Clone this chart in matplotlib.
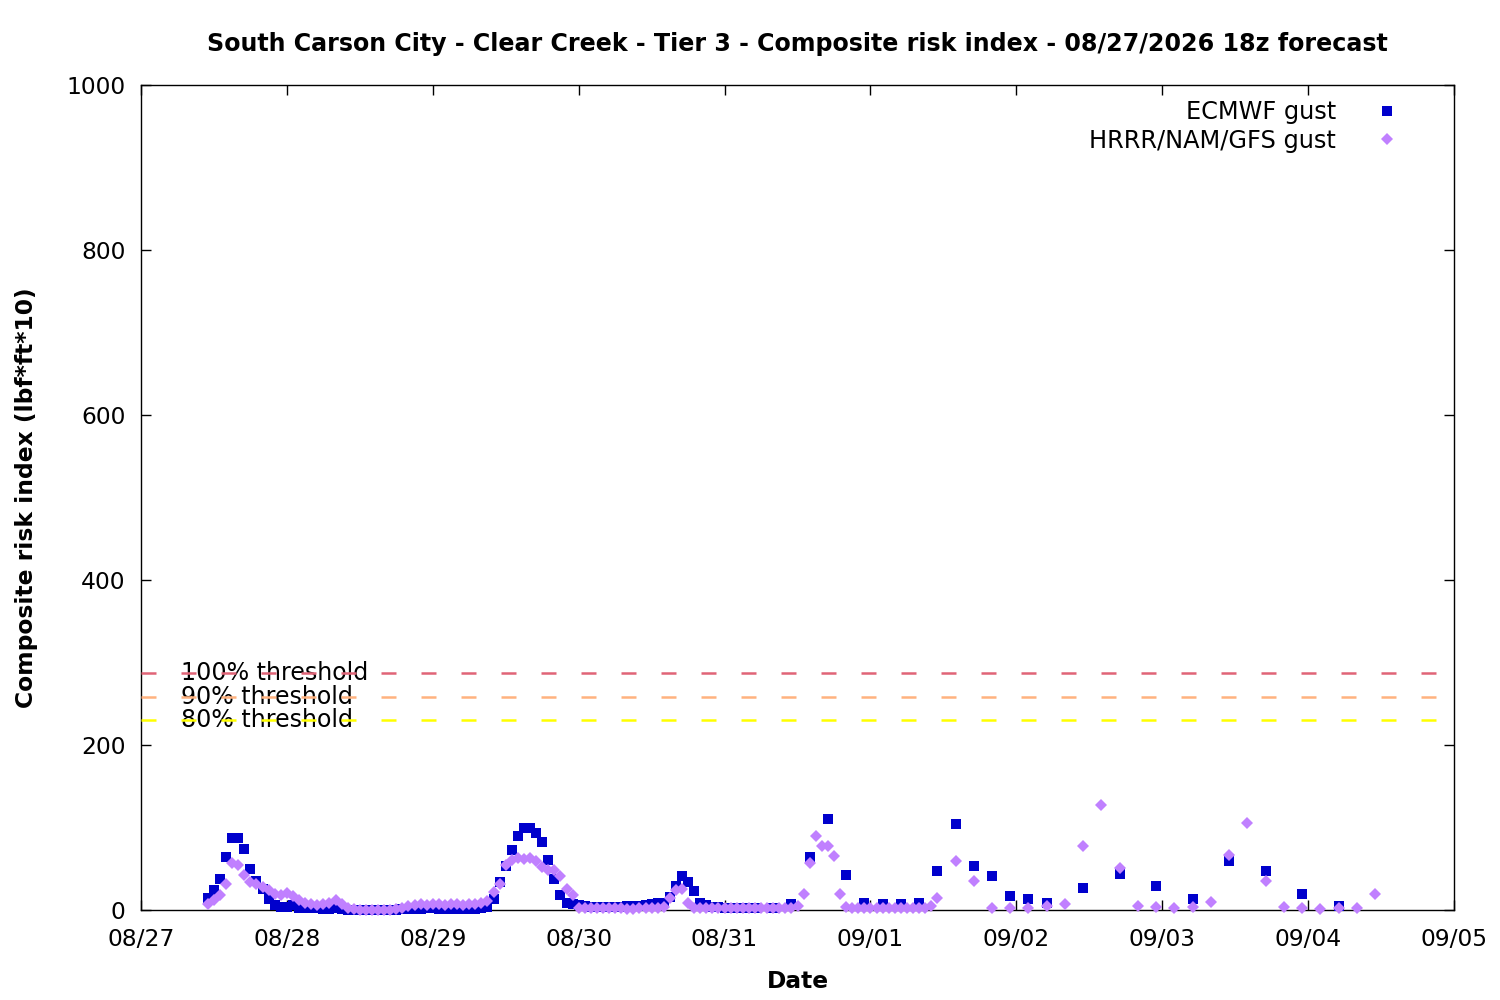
import matplotlib
matplotlib.use('Agg')
import matplotlib.pyplot as plt
import matplotlib.dates as mdates
from datetime import datetime, timedelta

plt.rcParams['font.family'] = ['DejaVu Sans']
plt.rcParams['lines.scale_dashes'] = False

BASE = datetime(2026, 8, 27)

# ---- data (hours after 08/27 00:00 local) ----
ecmwf_hours = list(range(11, 102)) + list(range(104, 150, 3)) + list(range(155, 198, 6))
ecmwf_values = [
    14, 24, 38, 64, 87, 87, 74, 50, 35, 26,
    13, 6, 4, 4, 6, 3, 2, 2, 2, 1,
    1, 2, 1, 0, 0, 0, 0, 0, 0, 0,
    0, 0, 1, 1, 1, 1, 2, 2, 1, 1,
    1, 1, 1, 1, 1, 2, 4, 13, 34, 53,
    73, 90, 100, 100, 93, 82, 61, 38, 18, 9,
    7, 6, 5, 4, 4, 4, 4, 4, 4, 5,
    5, 5, 6, 7, 8, 9, 16, 29, 41, 34,
    23, 9, 6, 4, 4, 3, 3, 3, 3, 3,
    3,
    3, 7, 64, 110, 43, 9, 7, 7, 9, 47, 104, 53, 41, 17, 13, 8,
    27, 44, 29, 13, 60, 47, 20, 5,
]

hrrr_hours = list(range(11, 132)) + list(range(134, 204, 3))
hrrr_values = [
    7, 12, 18, 32, 57, 54, 42, 34, 31, 28,
    24, 19, 18, 21, 17, 12, 9, 7, 6, 7,
    8, 12, 7, 3, 1, 0, 0, 0, 0, 0,
    0, 1, 3, 5, 6, 7, 6, 7, 7, 6,
    7, 7, 6, 7, 7, 8, 11, 22, 32, 54,
    61, 63, 62, 63, 59, 52, 49, 48, 41, 25,
    18, 3, 3, 2, 2, 2, 2, 2, 2, 1,
    1, 2, 2, 3, 3, 4, 15, 24, 26, 9,
    3, 3, 2, 2, 2, 2, 2, 2, 2, 3,
    3, 3, 2, 2, 3, 3, 3, 5, 20, 57,
    90, 78, 78, 65, 19, 4, 3, 3, 3, 3,
    3, 3, 3, 2, 3, 3, 3, 3, 3, 5,
    14,
    60, 35, 3, 3, 2, 5, 7, 77, 127, 51, 5, 4, 2, 4, 10, 67, 105, 35, 4, 3, 1, 3, 2, 19,
]

threshold_labels = ['100% threshold', '90% threshold', '80% threshold']
threshold_values = [287, 258, 230]
threshold_colors = ['#e06477', '#ffb27f', '#ffff00']

yticks = [0, 200, 400, 600, 800, 1000]
title = 'South Carson City - Clear Creek - Tier 3 - Composite risk index - 08/27/2026 18z forecast'

ecmwf_t = [BASE + timedelta(hours=h) for h in ecmwf_hours]
hrrr_t = [BASE + timedelta(hours=h) for h in hrrr_hours]

FS = 16.8
fig = plt.figure(figsize=(15, 10), dpi=100)
ax = fig.add_axes([141/1500, 90/1000, 1313/1500, 825/1000])

ax.plot(ecmwf_t, ecmwf_values, linestyle='none', marker='s', markersize=6.5,
        color='#0000cc', markeredgewidth=0, label='ECMWF gust', clip_on=False, zorder=4)
ax.plot(hrrr_t, hrrr_values, linestyle='none', marker='D', markersize=6.6,
        color='#c080ff', markeredgewidth=0, label='HRRR/NAM/GFS gust', clip_on=False, zorder=5)

for lab, val, col in zip(threshold_labels, threshold_values, threshold_colors):
    ax.axhline(val, color=col, linewidth=1.8, linestyle=(0, (10.8, 18.0)), zorder=3,
               xmax=0.992)
    ax.text(0.0305, val, lab, transform=ax.get_yaxis_transform(), fontsize=17.1,
            va='center', ha='left', color='black', zorder=2)

ax.set_xlim(BASE, BASE + timedelta(days=9))
ax.set_ylim(0, 1000)
ax.set_yticks(yticks)
ax.xaxis.set_major_locator(mdates.DayLocator())
ax.xaxis.set_major_formatter(mdates.DateFormatter('%m/%d'))
ax.tick_params(axis='both', direction='in', length=7, width=1, labelsize=FS,
               top=True, right=True)
ax.tick_params(axis='y', pad=11)
ax.tick_params(axis='x', pad=13)
for s in ax.spines.values():
    s.set_linewidth(1)

ax.set_xlabel('Date', fontsize=FS, fontweight='bold')
ax.xaxis.set_label_coords(0.5, -(981 - 910) / 825)
ax.set_ylabel('Composite risk index (lbf*ft*10)', fontsize=FS, fontweight='bold')
ax.yaxis.set_label_coords(-(141 - 27) / 1313, 0.5)
ax.yaxis.label.set_va('center')
ax.xaxis.label.set_va('center')
fig.text(797/1500, 1 - 44/1000, title, fontsize=17.1, fontweight='bold',
         ha='center', va='center')

ax.legend(loc='upper right', bbox_to_anchor=(0.9672, 0.9816), markerfirst=False,
          frameon=False, fontsize=17.3, borderaxespad=0, borderpad=0,
          handletextpad=1.12, labelspacing=0.18, handlelength=2)

fig.savefig('out.png', dpi=100)
